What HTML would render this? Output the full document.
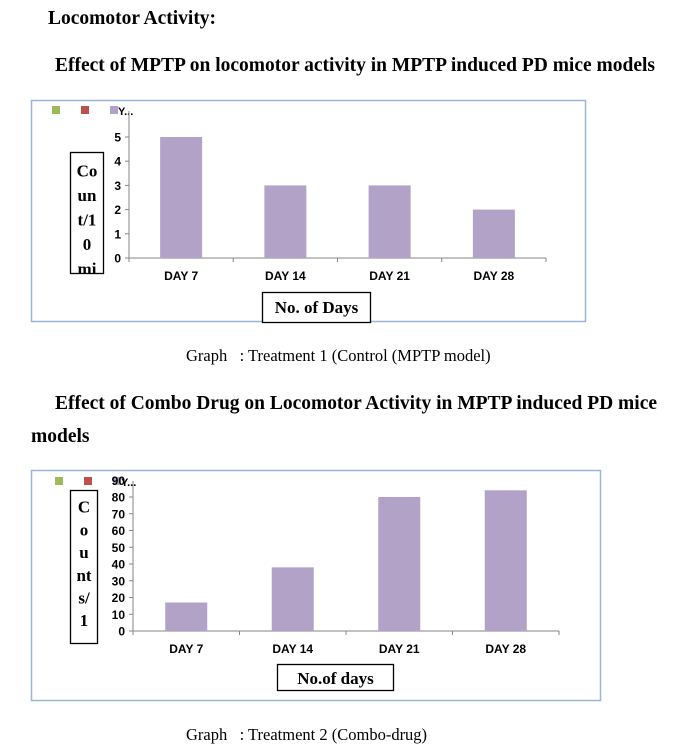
<!DOCTYPE html>
<html><head><meta charset="utf-8"><style>
html,body{margin:0;padding:0;background:#fff;width:679px;height:751px;overflow:hidden}
svg{display:block}
.ser{font-family:"Liberation Serif",serif}
.san{font-family:"Liberation Sans",sans-serif}
</style></head><body>
<svg id="page" width="679" height="751" xmlns="http://www.w3.org/2000/svg">
<defs>
<clipPath id="cp1"><rect x="71" y="153" width="32" height="120"/></clipPath>
<clipPath id="cp2"><rect x="71" y="491" width="26" height="152"/></clipPath>
</defs>
<text class="ser" x="48" y="24" font-size="19.5" font-weight="bold">Locomotor Activity:</text>
<text class="ser" x="55" y="71" font-size="19.5" font-weight="bold" textLength="600">Effect of MPTP on locomotor activity in MPTP induced PD mice models</text>
<rect x="31.5" y="100.5" width="554" height="221" fill="#fff" stroke="#9db6d8" stroke-width="1.5"/>
<g id="c1"></g>
<text class="ser" x="186" y="361" font-size="16.5">Graph &#160; : Treatment 1 (Control (MPTP model)</text>

<text class="ser" x="55" y="409" font-size="19.5" font-weight="bold" textLength="602">Effect of Combo Drug on Locomotor Activity in MPTP induced PD mice</text>
<text class="ser" x="31" y="442" font-size="19.5" font-weight="bold">models</text>
<rect x="31.5" y="470.5" width="569" height="230" fill="#fff" stroke="#9db6d8" stroke-width="1.5"/>
<g id="c2"></g>
<text class="ser" x="186" y="740" font-size="16.5">Graph &#160; : Treatment 2 (Combo-drug)</text>
</svg>
<script>
const categories1 = ["DAY 7","DAY 14","DAY 21","DAY 28"];
const values1 = [5,3,3,2];
const ticks1 = [0,1,2,3,4,5];
const categories2 = ["DAY 7","DAY 14","DAY 21","DAY 28"];
const values2 = [17,38,80,84];
const ticks2 = [0,10,20,30,40,50,60,70,80];
const NS="http://www.w3.org/2000/svg";
function mk(parent,tag,attrs,text){const e=document.createElementNS(NS,tag);for(const k in attrs)e.setAttribute(k,attrs[k]);if(text!==undefined)e.textContent=text;parent.appendChild(e);return e;}
function draw(g,cfg,cats,vals,ticks){
  const y=v=>cfg.y0-v*(cfg.y0-cfg.yTop)/(cfg.max);
  const bw=(cfg.x1-cfg.x0)/cats.length;
  const x=i=>cfg.x0+bw*(i+0.5);
  const lc=["#9bbb59","#c0504d","#b3a2c7"];
  lc.forEach((c,i)=>{const r=mk(g,'rect',{x:cfg.legX+i*29,y:cfg.legY,width:8,height:8,fill:c});
    
    });
  const lt=mk(g,'text',{x:cfg.legX+66,y:cfg.legY+9,'font-size':11,'font-weight':'bold',class:'san'},'Y...');
  
  
  mk(g,'line',{x1:cfg.x0,y1:cfg.yAxisTop,x2:cfg.x0,y2:cfg.y0+4,stroke:'#868686'});
  mk(g,'line',{x1:cfg.x0,y1:cfg.y0,x2:cfg.x1,y2:cfg.y0,stroke:'#868686'});
  ticks.forEach(t=>{mk(g,'line',{x1:cfg.x0-4,y1:y(t),x2:cfg.x0,y2:y(t),stroke:'#868686'});
    const tx=mk(g,'text',{x:cfg.x0-8,y:y(t)+4.5,'font-size':12,'font-weight':'bold','text-anchor':'end',class:'san'},String(t));
    
    });
  for(let i=0;i<=cats.length;i++)mk(g,'line',{x1:cfg.x0+bw*i,y1:cfg.y0,x2:cfg.x0+bw*i,y2:cfg.y0+4,stroke:'#868686'});
  cats.forEach((c,i)=>{
    const b=mk(g,'rect',{x:x(i)-21,y:y(vals[i]),width:42,height:cfg.y0-y(vals[i]),fill:'#b3a2c7'});
    
    
    const l=mk(g,'text',{x:x(i),y:cfg.y0+22,'font-size':12,'font-weight':'bold','text-anchor':'middle',class:'san'},c);
    
    
  });
}
const g1=document.getElementById('c1'), g2=document.getElementById('c2');
draw(g1,{x0:129,x1:546,y0:258,yTop:137,max:5,yAxisTop:111,legX:52,legY:106},categories1,values1,ticks1);
draw(g2,{x0:133,x1:559,y0:631,yTop:497,max:80,yAxisTop:481,legX:55,legY:477},categories2,values2,ticks2);
const t90=mk(g2,'text',{x:125,y:485,'font-size':12,'font-weight':'bold','text-anchor':'end',class:'san'},'90');


function box(g,x,yy,w,h,lines,fs,lh,name,clip){
  const gg=mk(g,'g',{});
  
  
  mk(gg,'rect',{x:x+0.5,y:yy+0.5,width:w,height:h,fill:'#fff',stroke:'#000','stroke-width':1.3});
  const tg=mk(gg,'g',clip?{'clip-path':'url(#'+clip+')'}:{});
  lines.forEach((s,i)=>mk(tg,'text',{x:x+w/2+0.5,y:yy+lh*(i+1),'font-size':fs,'font-weight':'bold','text-anchor':'middle',class:'ser'},s));
}
box(g1,70,152,33,121,["Co","un","t/1","0","mi"],17,24.5,'y-axis-title','cp1');
box(g1,262,292,108,30,["No. of Days"],17,21,'x-axis-title');
box(g2,70,490,27,153,["C","o","u","nt","s/","1"],17,22.7,'y-axis-title','cp2');
box(g2,277,664,116,26,["No.of days"],17,20,'x-axis-title');
</script>
</body></html>
